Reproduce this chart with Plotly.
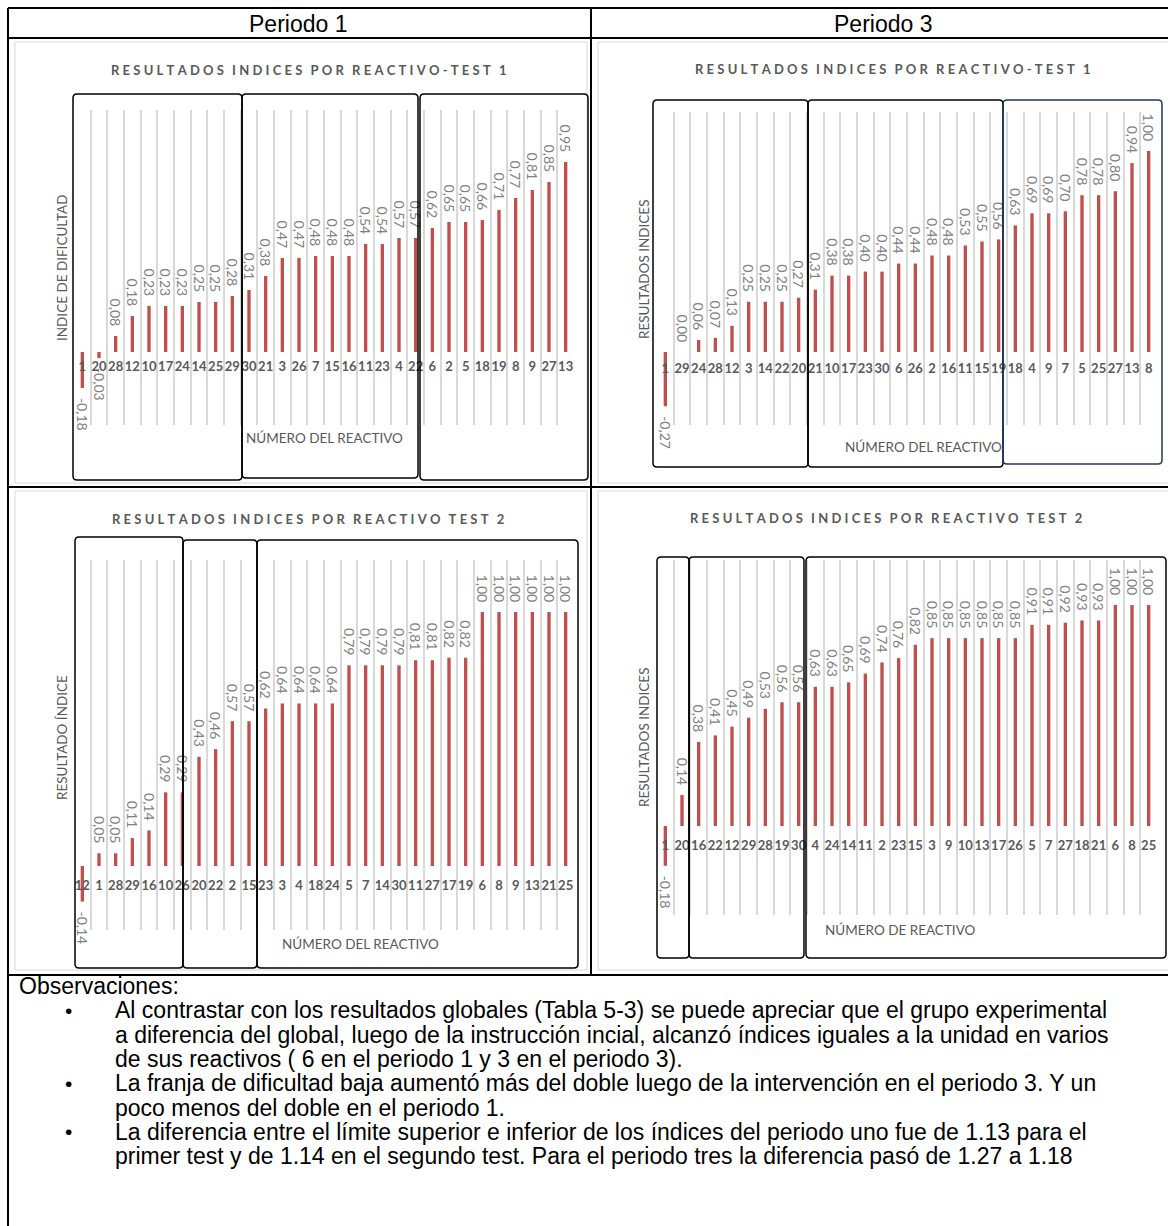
import plotly.graph_objects as go

W, H = 1168, 1226

# ---------------- data: item numbers and difficulty index per item ----------------
p1_t1_items = ["1", "20", "28", "12", "10", "17", "24", "14", "25", "29", "30", "21", "3", "26", "7",
               "15", "16", "11", "23", "4", "22", "6", "2", "5", "18", "19", "8", "9", "27", "13"]
p1_t1_values = [-0.18, -0.03, 0.08, 0.18, 0.23, 0.23, 0.23, 0.25, 0.25, 0.28, 0.31, 0.38, 0.47, 0.47, 0.48,
                0.48, 0.48, 0.54, 0.54, 0.57, 0.57, 0.62, 0.65, 0.65, 0.66, 0.71, 0.77, 0.81, 0.85, 0.95]

p3_t1_items = ["1", "29", "24", "28", "12", "3", "14", "22", "20", "21", "10", "17", "23", "30", "6",
               "26", "2", "16", "11", "15", "19", "18", "4", "9", "7", "5", "25", "27", "13", "8"]
p3_t1_values = [-0.27, 0.00, 0.06, 0.07, 0.13, 0.25, 0.25, 0.25, 0.27, 0.31, 0.38, 0.38, 0.40, 0.40, 0.44,
                0.44, 0.48, 0.48, 0.53, 0.55, 0.56, 0.63, 0.69, 0.69, 0.70, 0.78, 0.78, 0.80, 0.94, 1.00]

p1_t2_items = ["12", "1", "28", "29", "16", "10", "26", "20", "22", "2", "15", "23", "3", "4", "18",
               "24", "5", "7", "14", "30", "11", "27", "17", "19", "6", "8", "9", "13", "21", "25"]
p1_t2_values = [-0.14, 0.05, 0.05, 0.11, 0.14, 0.29, 0.29, 0.43, 0.46, 0.57, 0.57, 0.62, 0.64, 0.64, 0.64,
                0.64, 0.79, 0.79, 0.79, 0.79, 0.81, 0.81, 0.82, 0.82, 1.00, 1.00, 1.00, 1.00, 1.00, 1.00]

p3_t2_items = ["1", "20", "16", "22", "12", "29", "28", "19", "30", "4", "24", "14", "11", "2", "23",
               "15", "3", "9", "10", "13", "17", "26", "5", "7", "27", "18", "21", "6", "8", "25"]
p3_t2_values = [-0.18, 0.14, 0.38, 0.41, 0.45, 0.49, 0.53, 0.56, 0.56, 0.63, 0.63, 0.65, 0.69, 0.74, 0.76,
                0.82, 0.85, 0.85, 0.85, 0.85, 0.85, 0.85, 0.91, 0.91, 0.92, 0.93, 0.93, 1.00, 1.00, 1.00]

column_headers = ["Periodo 1", "Periodo 3"]

chart_titles = ["RESULTADOS INDICES POR REACTIVO-TEST 1", "RESULTADOS INDICES POR REACTIVO-TEST 1",
                "RESULTADOS INDICES POR REACTIVO TEST 2", "RESULTADOS INDICES POR REACTIVO TEST 2"]
y_titles = ["INDICE DE DIFICULTAD", "RESULTADOS INDICES", "RESULTADO ÍNDICE", "RESULTADOS INDICES"]
x_titles = ["NÚMERO DEL REACTIVO", "NÚMERO DEL REACTIVO", "NÚMERO DEL REACTIVO", "NÚMERO DE REACTIVO"]

obs_heading = "Observaciones:"
obs_bullets = [
    ["Al contrastar con los resultados globales (Tabla 5-3) se puede apreciar que el grupo experimental",
     "a diferencia del global, luego de la instrucción incial, alcanzó índices iguales a la unidad en varios",
     "de sus reactivos ( 6 en el periodo 1 y 3 en el periodo 3)."],
    ["La franja de dificultad baja aumentó más del doble luego de la intervención en el periodo 3. Y un",
     "poco menos del doble en el periodo 1."],
    ["La diferencia entre el límite superior e inferior de los índices del periodo uno fue de 1.13 para el",
     "primer test y de 1.14 en el segundo test. Para el periodo tres la diferencia pasó de 1.27 a 1.18"],
]

# ---------------- layout geometry (pixels) ----------------
def fx(px):
    return px / W


def fy(py):
    return 1 - py / H


BAR_COLOR = "#C0504D"
GRID_COLOR = "#D9D9D9"
TEXT_GRAY = "#595959"
LABEL_GRAY = "#7F7F7F"
FONT = "Lato"

charts = [
    dict(items=p1_t1_items, values=p1_t1_values, plot_x=(74, 574), plot_y=(110, 425), zero=352, scale=200,
         tick_gap=5,
         frame=(15, 42, 587, 483), title_xy=(308, 70), ytitle_xy=(62, 268), xtitle_xy=(324, 438),
         boxes=[(73, 94, 242, 480, "black"), (242, 94, 418, 478, "black"), (420, 94, 588, 480, "black")]),
    dict(items=p3_t1_items, values=p3_t1_values, plot_x=(657, 1157), plot_y=(112, 425), zero=352, scale=201,
         tick_gap=7,
         frame=(598, 42, 1175, 483), title_xy=(892, 69), ytitle_xy=(644, 270), xtitle_xy=(923, 447),
         boxes=[(653, 100, 808, 467, "black"), (808, 100, 1003, 467, "black"), (1003, 100, 1162, 464, "#1F3864")]),
    dict(items=p1_t2_items, values=p1_t2_values, plot_x=(74, 574), plot_y=(560, 930), zero=866, scale=254,
         tick_gap=10,
         frame=(15, 491, 587, 970), title_xy=(308, 519), ytitle_xy=(62, 738), xtitle_xy=(360, 944),
         boxes=[(75, 537, 183, 968, "black"), (183, 540, 257, 968, "black"), (257, 540, 578, 968, "black")]),
    dict(items=p3_t2_items, values=p3_t2_values, plot_x=(657, 1157), plot_y=(560, 915), zero=826, scale=221,
         tick_gap=10,
         frame=(598, 491, 1175, 970), title_xy=(886, 518), ytitle_xy=(644, 738), xtitle_xy=(900, 930),
         boxes=[(657, 557, 689, 958, "black"), (689, 557, 804, 958, "black"), (806, 557, 1166, 958, "black")]),
]


def spaced(text):
    # wide tracking for the chart titles
    return "\u2002\u2009".join("\u2009\u2009".join(word) for word in text.split(" "))


def value_label(v):
    s = f"{v:.2f}".replace(".", ",")
    pad = "\u2007\u2009"
    return pad + s if v < 0 else s + pad


def rounded_rect(x0, y0, x1, y1, r=4):
    rx, ry = r / W, r / H
    a, b, c, d = fx(x0), fy(y0), fx(x1), fy(y1)
    return (f"M {a + rx},{b} L {c - rx},{b} Q {c},{b} {c},{b - ry} "
            f"L {c},{d + ry} Q {c},{d} {c - rx},{d} L {a + rx},{d} "
            f"Q {a},{d} {a},{d + ry} L {a},{b - ry} Q {a},{b} {a + rx},{b} Z")


fig = go.Figure()
shapes = []
annotations = []
layout_axes = {}

for i, ch in enumerate(charts, start=1):
    xa = "x" if i == 1 else f"x{i}"
    ya = "y" if i == 1 else f"y{i}"
    top, bottom = ch["plot_y"]
    z, s = ch["zero"], ch["scale"]
    y_range = [(z - bottom) / s, (z - top) / s]

    fig.add_trace(go.Bar(
        x=ch["items"], y=ch["values"], xaxis=xa, yaxis=ya,
        marker=dict(color=BAR_COLOR, line=dict(width=0)), width=0.2,
        text=[value_label(v) for v in ch["values"]], textposition="outside", textangle=90,
        constraintext="none", cliponaxis=False,
        textfont=dict(family=FONT, size=14, color=LABEL_GRAY),
        hoverinfo="skip", showlegend=False,
    ))

    layout_axes["xaxis" if i == 1 else f"xaxis{i}"] = dict(
        domain=[fx(ch["plot_x"][0]), fx(ch["plot_x"][1])],
        anchor="free", position=fy(z),
        type="category", tickson="boundaries", tickangle=0,
        showgrid=True, gridcolor=GRID_COLOR, gridwidth=1.5,
        showline=False, zeroline=False, ticks="",
        tickfont=dict(family=FONT, size=13, color=TEXT_GRAY, weight="bold"),
        ticklabelstandoff=ch["tick_gap"], fixedrange=True,
    )
    layout_axes["yaxis" if i == 1 else f"yaxis{i}"] = dict(
        domain=[fy(bottom), fy(top)], anchor=xa, range=y_range,
        visible=False, showgrid=False, zeroline=False, fixedrange=True,
    )

    # chart area frame
    fx0, fy0, fx1, fy1 = ch["frame"]
    shapes.append(dict(type="rect", xref="paper", yref="paper", x0=fx(fx0), y0=fy(fy0), x1=fx(fx1), y1=fy(fy1),
                       line=dict(color=GRID_COLOR, width=1), fillcolor="rgba(0,0,0,0)", layer="below"))
    # grouping boxes drawn over the chart
    for (bx0, by0, bx1, by1, col) in ch["boxes"]:
        shapes.append(dict(type="path", xref="paper", yref="paper", path=rounded_rect(bx0, by0, bx1, by1),
                           line=dict(color=col, width=1.5)))

    tx, ty = ch["title_xy"]
    annotations.append(dict(text=f"<b>{spaced(chart_titles[i - 1])}</b>", x=fx(tx), y=fy(ty),
                            xref="paper", yref="paper", showarrow=False, xanchor="center", yanchor="middle",
                            font=dict(family=FONT, size=13, color=TEXT_GRAY)))
    yx, yy = ch["ytitle_xy"]
    annotations.append(dict(text=y_titles[i - 1], x=fx(yx), y=fy(yy), xref="paper", yref="paper",
                            showarrow=False, textangle=-90, xanchor="center", yanchor="middle",
                            font=dict(family=FONT, size=13.5, color=TEXT_GRAY)))
    xx, xy = ch["xtitle_xy"]
    annotations.append(dict(text=x_titles[i - 1], x=fx(xx), y=fy(xy), xref="paper", yref="paper",
                            showarrow=False, xanchor="center", yanchor="middle",
                            font=dict(family=FONT, size=13.5, color=TEXT_GRAY)))

# ---------------- table grid ----------------
table_lines = [
    (8, 8, 1168, 8), (8, 38, 1168, 38), (8, 487, 1168, 487), (8, 975, 1168, 975),
    (8, 8, 8, 1226), (591, 8, 591, 975),
]
for (x0, y0, x1, y1) in table_lines:
    shapes.append(dict(type="line", xref="paper", yref="paper", x0=fx(x0), y0=fy(y0), x1=fx(x1), y1=fy(y1),
                       line=dict(color="black", width=2)))

for hdr, cx in zip(column_headers, [298, 883]):
    annotations.append(dict(text=hdr, x=fx(cx), y=fy(24), xref="paper", yref="paper", showarrow=False,
                            xanchor="center", yanchor="middle",
                            font=dict(family="Liberation Sans", size=23, color="black")))

# ---------------- observations ----------------
OBS_FONT = dict(family="Liberation Sans", size=23, color="black")
annotations.append(dict(text=obs_heading, x=fx(17), y=fy(986), xref="paper", yref="paper", showarrow=False,
                        xanchor="left", yanchor="middle", font=OBS_FONT))
line_y = 1010.5
for bullet in obs_bullets:
    annotations.append(dict(text="•", x=fx(68), y=fy(line_y), xref="paper", yref="paper", showarrow=False,
                            xanchor="center", yanchor="middle", font=dict(OBS_FONT, size=21)))
    for line in bullet:
        annotations.append(dict(text=line, x=fx(113), y=fy(line_y), xref="paper", yref="paper",
                                showarrow=False, xanchor="left", yanchor="middle", font=OBS_FONT))
        line_y += 24.3

fig.update_layout(
    width=W, height=H, margin=dict(l=0, r=0, t=0, b=0),
    paper_bgcolor="white", plot_bgcolor="rgba(0,0,0,0)",
    showlegend=False, bargap=0.8,
    shapes=shapes, annotations=annotations,
    **layout_axes,
)

fig.write_html("out.html")
